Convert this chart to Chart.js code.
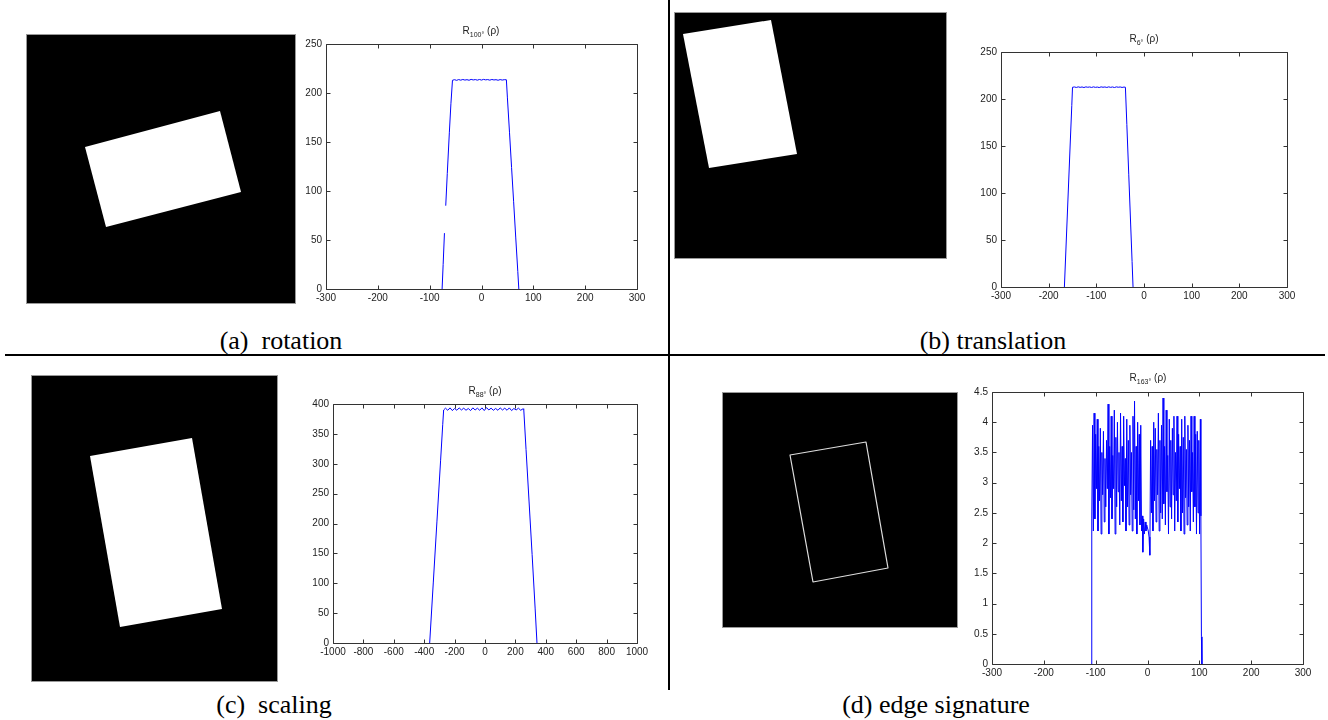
<!DOCTYPE html>
<html>
<head>
<meta charset="utf-8">
<script src="https://cdn.jsdelivr.net/npm/chart.js@4.4.1/dist/chart.umd.min.js"></script>
<style>
  body { margin: 0; background: #fff; }
  #page { position: relative; width: 1328px; height: 720px; overflow: hidden; background: #fff; }
  canvas { position: absolute; }
  .ttl { position: absolute; width: 120px; margin-left: -60px; text-align: center;
         font: 10px "Liberation Sans", Arial, sans-serif; color: #222; white-space: nowrap; }
  .ttl sub { font-size: 7px; }
  .cap { position: absolute; width: 400px; margin-left: -200px; text-align: center;
         font: 26px/26px "Liberation Serif", "Times New Roman", serif; color: #000; white-space: nowrap; }
</style>
</head>
<body>
<div id="page">
  <svg width="1328" height="720" style="position:absolute;left:0;top:0">
    <rect x="26.5" y="34.5" width="269" height="269" fill="#000" stroke="#999"/>
    <polygon points="85,147 220,111 241,192 106,227" fill="#fff"/>
    <rect x="674.5" y="12.5" width="272" height="246" fill="#000" stroke="#999"/>
    <polygon points="683,34 771,20 797,154 709,168" fill="#fff"/>
    <rect x="31.5" y="375.5" width="246" height="306" fill="#000" stroke="#999"/>
    <polygon points="90,456 192,438 222,609 120,627" fill="#fff"/>
    <rect x="722.5" y="392.5" width="235" height="235" fill="#000" stroke="#999"/>
    <polygon points="790,455 866,442 888,568 813,582" fill="none" stroke="#ddd" stroke-width="1.2" stroke-linejoin="round"/>
    <line x1="669" y1="0" x2="669" y2="690" stroke="#000" stroke-width="2"/>
    <line x1="5" y1="355" x2="1325" y2="355" stroke="#000" stroke-width="2"/>
  </svg>

  <canvas id="chartA"></canvas>
  <canvas id="chartB"></canvas>
  <canvas id="chartC"></canvas>
  <canvas id="chartD"></canvas>

  <div class="ttl" style="left:481px;top:25px">R<sub>100°</sub> (ρ)</div>
  <div class="ttl" style="left:1144px;top:33px">R<sub>6°</sub> (ρ)</div>
  <div class="ttl" style="left:485px;top:385px">R<sub>88°</sub> (ρ)</div>
  <div class="ttl" style="left:1148px;top:372px">R<sub>163°</sub> (ρ)</div>

  <div class="cap" style="left:281px;top:328px">(a)&nbsp; rotation</div>
  <div class="cap" style="left:993px;top:328px">(b) translation</div>
  <div class="cap" style="left:274px;top:692px">(c)&nbsp; scaling</div>
  <div class="cap" style="left:936px;top:692px">(d) edge signature</div>
</div>

<script>
// (a) rotation
var rotX = [-76, -74, -71.5, -70.5, -69, -66, -62, -59, -56,
  -52, -48, -44, -40, -36, -32, -28, -24, -20, -16, -12, -8, -4, 0,
  4, 8, 12, 16, 20, 24, 28, 32, 36, 40, 44, 48,
  50, 54, 58, 62, 66, 70, 72];
var rotY = [0, 25, 57, null, 85, 118, 160, 189, 213,
  213.6, 212.9, 213.7, 213.1, 213.8, 213.2, 213.6, 213.0, 213.9, 213.3, 213.7, 213.1, 213.8, 213.2,
  213.9, 213.4, 213.7, 213.1, 213.8, 213.3, 213.6, 213.0, 213.7, 213.2, 213.6, 213.5,
  195, 160, 124, 89, 53, 18, 0];

// (b) translation
var transX = [-167, -163, -159, -155, -151.5, -150,
  -146, -142, -138, -134, -130, -126, -122, -118, -114, -110, -106, -102, -98, -94,
  -90, -86, -82, -78, -74, -70, -66, -62, -58, -54, -50, -46, -42,
  -39, -36, -32, -28, -25, -23];
var transY = [0, 50, 100, 150, 193, 212.5,
  212.8, 212.3, 212.9, 212.4, 212.8, 212.2, 212.9, 212.5, 212.8, 212.3, 212.9, 212.4, 212.7, 212.2,
  212.9, 212.5, 212.8, 212.3, 212.9, 212.4, 212.8, 212.2, 212.9, 212.5, 212.8, 212.3, 212.7,
  212.5, 173, 120, 67, 27, 0];

// (c) scaling
var scaleX = [-364, -340, -316, -292, -278, -272,
  -260, -245, -230, -215, -200, -185, -170, -155, -140, -125, -110, -95, -80, -65, -50, -35, -20, -5,
  10, 25, 40, 55, 70, 85, 100, 115, 130, 145, 160, 175, 190, 205, 220, 235, 250,
  255, 270, 290, 310, 330, 342];
var scaleY = [0, 102, 204, 306, 366, 390,
  393, 389.5, 393.5, 389, 392.5, 389.5, 393.5, 390, 393, 389.5, 392.5, 389, 393.5, 390, 393, 389.5, 393.5, 389,
  394, 390, 393, 389.5, 392.5, 389.5, 393.5, 390, 393, 389.5, 393.5, 389, 392.5, 390, 393, 389.5, 392,
  391, 324, 236, 148, 57, 0];

// (d) edge signature
var edgeX = [-108, -107.5,
  -106, -104.5, -103, -101.5, -100, -98.5, -97, -95.5, -94, -92.5,
  -91, -89.5, -88, -86.5, -85, -83.5, -82, -80.5, -79, -77.5,
  -76, -74.5, -73, -71.5, -70, -68.5, -67, -65.5, -64, -62.5,
  -61, -59.5, -58, -56.5, -55, -53.5, -52, -50.5, -49, -47.5,
  -46, -44.5, -43, -41.5, -40, -38.5, -37, -35.5, -34, -32.5,
  -31, -29.5, -28, -26.5, -25, -23.5, -22, -20.5, -19, -17.5,
  -16, -14.5, -13,
  -11.5, -10, -9, -7.5, -6, -4.5, -3, -1.5, 0, 1.5, 3, 4.5, 6,
  7.5, 9, 10.5, 12, 13.5, 15, 16.5, 18, 19.5, 21,
  22.5, 24, 25.5, 27, 28.5, 30, 31.5, 33, 34.5, 36,
  37.5, 39, 40.5, 42, 43.5, 45, 46.5, 48, 49.5, 51,
  52.5, 54, 55.5, 57, 58.5, 60, 61.5, 63, 64.5, 66,
  67.5, 69, 70.5, 72, 73.5, 75, 76.5, 78, 79.5, 81,
  82.5, 84, 85.5, 87, 88.5, 90, 91.5, 93, 94.5, 96,
  97.5, 99, 100.5, 102,
  103, 104, 105];
var edgeY = [0, 2.4,
  3.95, 2.2, 4.15, 2.4, 3.8, 2.9, 4.05, 2.2, 3.6, 2.7,
  3.9, 2.15, 3.5, 2.8, 3.85, 2.35, 3.4, 2.6, 3.7, 2.9,
  4.3, 2.15, 3.6, 2.75, 4.1, 2.4, 3.45, 2.9, 4.2, 2.15,
  3.75, 2.6, 4.0, 2.85, 3.5, 2.3, 4.15, 2.7, 3.6, 2.35,
  4.1, 2.95, 3.4, 2.2, 4.05, 2.6, 3.7, 2.3, 3.95, 2.8,
  3.5, 2.2, 4.1, 2.55, 4.35, 2.4, 3.6, 2.15, 4.0, 2.7,
  3.8, 2.3, 3.95,
  2.2, 2.45, 1.85, 2.4, 2.15, 2.35, 2.2, 2.3, 2.25, 2.2, 2.1, 1.8, 3.7,
  2.5, 3.6, 2.2, 4.0, 2.7, 3.9, 2.35, 3.55, 2.8, 4.15,
  2.2, 3.7, 2.5, 3.95, 2.4, 4.4, 2.65, 3.6, 2.3, 4.2,
  2.85, 3.45, 2.15, 4.05, 2.6, 3.7, 2.4, 3.9, 2.8, 4.1,
  2.2, 3.5, 2.7, 4.1, 2.35, 3.8, 2.9, 3.6, 2.2, 4.05,
  2.5, 3.75, 2.15, 4.1, 2.75, 3.55, 2.3, 3.95, 2.6, 3.7,
  2.2, 4.1, 2.85, 3.5, 2.35, 4.1, 2.6, 3.8, 2.15, 3.85,
  2.5, 3.7, 2.15, 4.05,
  2.45, 0.45, 0];

// MATLAB-like box with ticks pointing inward on all four sides
var boxTicks = {
  id: 'boxTicks',
  afterDatasetsDraw: function (chart) {
    var ctx = chart.ctx, a = chart.chartArea;
    var l = Math.round(a.left) + 0.5, r = Math.round(a.right) + 0.5;
    var t = Math.round(a.top) + 0.5, b = Math.round(a.bottom) + 0.5;
    ctx.save();
    ctx.strokeStyle = '#333';
    ctx.lineWidth = 1;
    ctx.beginPath();
    ctx.rect(l, t, r - l, b - t);
    chart.scales.x.ticks.forEach(function (tk) {
      var px = Math.round(chart.scales.x.getPixelForValue(tk.value)) + 0.5;
      ctx.moveTo(px, b); ctx.lineTo(px, b - 4);
      ctx.moveTo(px, t); ctx.lineTo(px, t + 4);
    });
    chart.scales.y.ticks.forEach(function (tk) {
      var py = Math.round(chart.scales.y.getPixelForValue(tk.value)) + 0.5;
      ctx.moveTo(l, py); ctx.lineTo(l + 4, py);
      ctx.moveTo(r, py); ctx.lineTo(r - 4, py);
    });
    ctx.stroke();
    ctx.restore();
  }
};

function plainNumber(v) { return String(v); }

function makeChart(id, area, xs, ys, xr, yr) {
  var el = document.getElementById(id);
  var w = area.r - area.l + 40 + 16, h = area.b - area.t + 10 + 22;
  el.width = w; el.height = h;
  el.style.left = (area.l - 40) + 'px';
  el.style.top = (area.t - 10) + 'px';
  var tickFont = { family: '"Liberation Sans", Arial, sans-serif', size: 10 };
  return new Chart(el, {
    type: 'line',
    data: {
      labels: xs,
      datasets: [{
        data: ys,
        borderColor: '#0000ff',
        borderWidth: 1,
        pointRadius: 0,
        tension: 0,
        fill: false,
        spanGaps: false
      }]
    },
    options: {
      animation: false,
      responsive: false,
      events: [],
      layout: { padding: { left: 0, top: 10, right: 16, bottom: 0 } },
      plugins: { legend: { display: false }, tooltip: { enabled: false } },
      scales: {
        x: {
          type: 'linear', min: xr[0], max: xr[1],
          ticks: { stepSize: xr[2], color: '#222', font: tickFont, padding: 3, maxRotation: 0, autoSkip: false, callback: plainNumber },
          grid: { display: false, drawTicks: false },
          border: { display: false },
          afterFit: function (s) { s.height = 22; }
        },
        y: {
          type: 'linear', min: yr[0], max: yr[1],
          ticks: { stepSize: yr[2], color: '#222', font: tickFont, padding: 4, autoSkip: false, callback: plainNumber },
          grid: { display: false, drawTicks: false },
          border: { display: false },
          afterFit: function (s) { s.width = 40; }
        }
      }
    },
    plugins: [boxTicks]
  });
}

makeChart('chartA', { l: 326, t: 44, r: 637, b: 289 }, rotX, rotY, [-300, 300, 100], [0, 250, 50]);
makeChart('chartB', { l: 1001, t: 52, r: 1287, b: 287 }, transX, transY, [-300, 300, 100], [0, 250, 50]);
makeChart('chartC', { l: 333, t: 404, r: 637, b: 643 }, scaleX, scaleY, [-1000, 1000, 200], [0, 400, 50]);
makeChart('chartD', { l: 992, t: 392, r: 1303, b: 664 }, edgeX, edgeY, [-300, 300, 100], [0, 4.5, 0.5]);
</script>
</body>
</html>
